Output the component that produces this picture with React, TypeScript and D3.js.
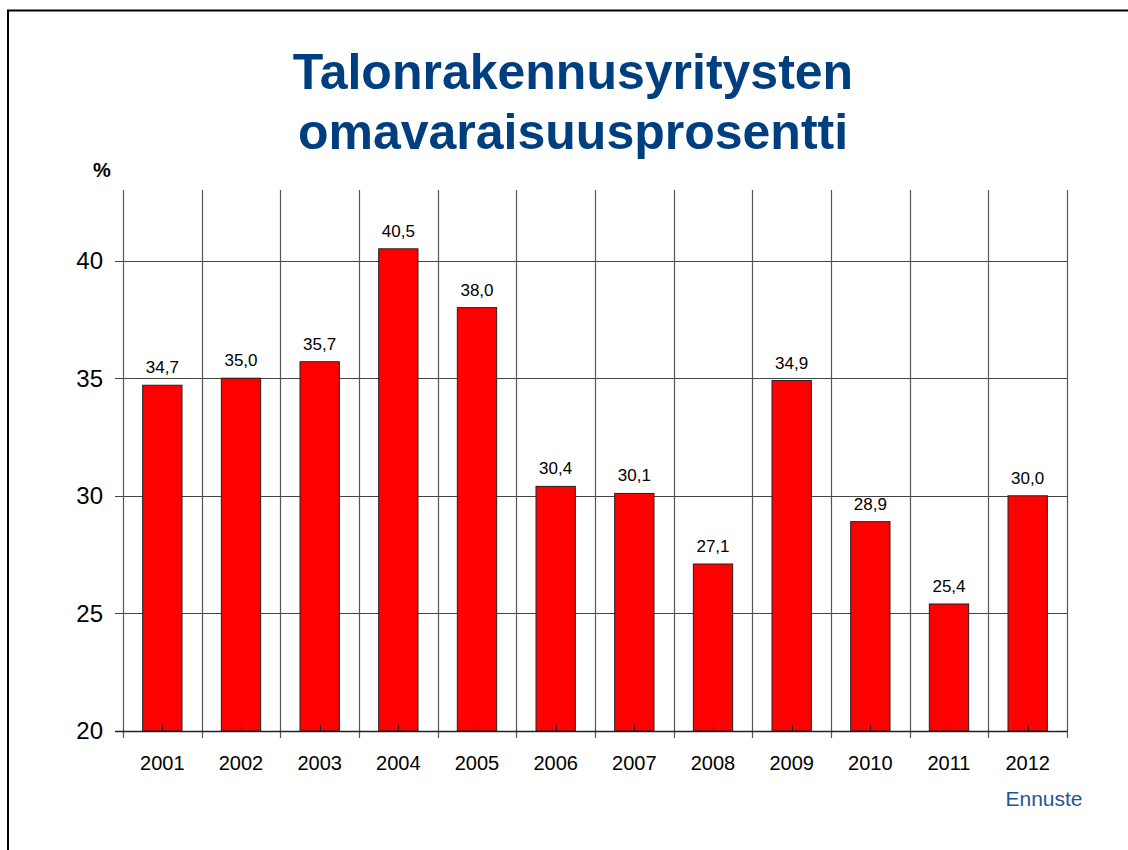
import { useEffect, useRef } from "react"
import * as d3 from "d3"

const years = ["2001", "2002", "2003", "2004", "2005", "2006", "2007", "2008", "2009", "2010", "2011", "2012"]
const equityRatio = [34.7, 35.0, 35.7, 40.5, 38.0, 30.4, 30.1, 27.1, 34.9, 28.9, 25.4, 30.0]
const yTicks = [20, 25, 30, 35, 40]
const titleLines = ["Talonrakennusyritysten", "omavaraisuusprosentti"]

const W = 1128
const H = 850
const FONT = "Arial, 'Liberation Sans', Helvetica, sans-serif"

export default function App() {
  const svgRef = useRef<SVGSVGElement>(null)

  useEffect(() => {
    const svg = d3.select(svgRef.current!)
    svg.selectAll("*").remove()

    const left = 123
    const right = 1067
    const top = 190
    const bottom = 731

    const x = d3.scaleBand<string>().domain(years).range([left, right]).padding(0)
    const y = d3.scaleLinear().domain([20, 43]).range([bottom, top])
    const barW = x.bandwidth() * 0.5

    // slide frame (top + left edges only)
    svg.append("line").attr("x1", 7).attr("x2", W).attr("y1", 10.5).attr("y2", 10.5)
      .attr("stroke", "#000").attr("stroke-width", 2)
    svg.append("line").attr("x1", 8).attr("x2", 8).attr("y1", 10).attr("y2", H)
      .attr("stroke", "#000").attr("stroke-width", 2)

    // title
    const title = svg.append("text")
      .attr("text-anchor", "middle")
      .attr("font-family", FONT)
      .attr("font-weight", 700)
      .attr("font-size", 50)
      .attr("fill", "#003f7f")
    titleLines.forEach((t, i) => {
      title.append("tspan").attr("x", 573).attr("y", 89 + i * 60).text(t)
    })

    // unit label
    svg.append("text").attr("x", 102).attr("y", 177).attr("text-anchor", "middle")
      .attr("font-family", FONT).attr("font-weight", 700).attr("font-size", 20)
      .attr("fill", "#000").text("%")

    // horizontal gridlines + ticks
    const g = svg.append("g")
    yTicks.filter((t) => t > 20).forEach((t) => {
      g.append("line").attr("x1", left - 8).attr("x2", right)
        .attr("y1", Math.round(y(t)) + 0.5).attr("y2", Math.round(y(t)) + 0.5)
        .attr("stroke", "#444").attr("stroke-width", 1)
    })
    yTicks.forEach((t) => {
      g.append("text").attr("x", 103).attr("y", y(t)).attr("dy", "0.35em")
        .attr("text-anchor", "end").attr("font-family", FONT).attr("font-size", 24)
        .attr("fill", "#000").text(t)
    })

    // vertical gridlines at category boundaries
    const bounds = years.map((yr) => x(yr)!).concat([right])
    bounds.forEach((bx) => {
      g.append("line").attr("x1", Math.round(bx) + 0.5).attr("x2", Math.round(bx) + 0.5)
        .attr("y1", top).attr("y2", bottom + 7)
        .attr("stroke", "#555").attr("stroke-width", 1.2)
    })

    // bars
    g.selectAll("rect.bar").data(years).enter().append("rect")
      .attr("class", "bar")
      .attr("x", (d) => x(d)! + (x.bandwidth() - barW) / 2)
      .attr("y", (_, i) => y(equityRatio[i]))
      .attr("width", barW)
      .attr("height", (_, i) => bottom - y(equityRatio[i]))
      .attr("fill", "#ff0000")
      .attr("stroke", "#222")
      .attr("stroke-width", 1)

    // small category ticks inside bars
    years.forEach((yr) => {
      const cx = Math.round(x(yr)! + x.bandwidth() / 2) + 0.5
      g.append("line").attr("x1", cx).attr("x2", cx).attr("y1", bottom - 6).attr("y2", bottom)
        .attr("stroke", "#222").attr("stroke-width", 1)
    })

    // x axis line
    g.append("line").attr("x1", left - 8).attr("x2", right + 0.5)
      .attr("y1", bottom + 0.5).attr("y2", bottom + 0.5)
      .attr("stroke", "#222").attr("stroke-width", 1.5)

    // value labels
    g.selectAll("text.val").data(years).enter().append("text")
      .attr("class", "val")
      .attr("x", (d) => x(d)! + x.bandwidth() / 2)
      .attr("y", (_, i) => y(equityRatio[i]) - 12)
      .attr("text-anchor", "middle")
      .attr("font-family", FONT).attr("font-size", 17).attr("fill", "#000")
      .text((_, i) => equityRatio[i].toFixed(1).replace(".", ","))

    // year labels
    g.selectAll("text.yr").data(years).enter().append("text")
      .attr("class", "yr")
      .attr("x", (d) => x(d)! + x.bandwidth() / 2)
      .attr("y", 770)
      .attr("text-anchor", "middle")
      .attr("font-family", FONT).attr("font-size", 20).attr("fill", "#000")
      .text((d) => d)

    // forecast note
    svg.append("text").attr("x", 1044).attr("y", 806).attr("text-anchor", "middle")
      .attr("font-family", FONT).attr("font-size", 21).attr("fill", "#1f5597")
      .text("Ennuste")
  }, [])

  return (
    <svg
      ref={svgRef}
      width={W}
      height={H}
      style={{ position: "absolute", left: 0, top: 0, background: "#fff" }}
    />
  )
}
